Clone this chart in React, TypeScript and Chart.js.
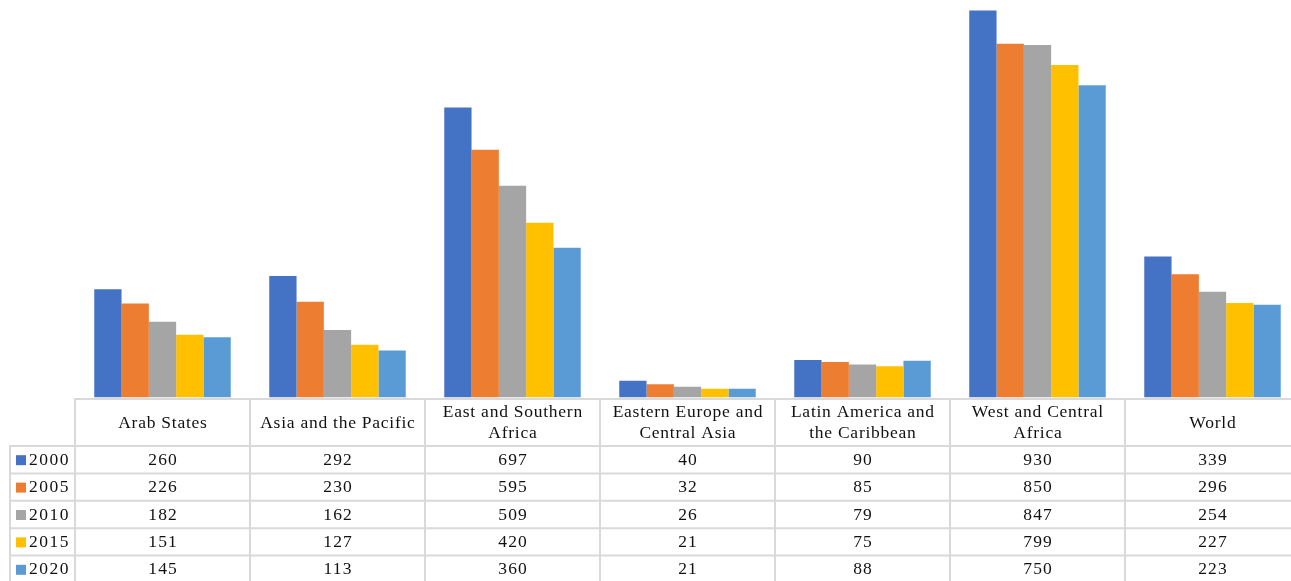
import React, { useEffect, useRef } from "react";
import { Chart, registerables } from "chart.js";

Chart.register(...registerables);

const categories: string[][] = [
  ["Arab States"],
  ["Asia and the Pacific"],
  ["East and Southern", "Africa"],
  ["Eastern Europe and", "Central Asia"],
  ["Latin America and", "the Caribbean"],
  ["West and Central", "Africa"],
  ["World"],
];

const seriesNames = ["2000", "2005", "2010", "2015", "2020"];
const seriesColors = ["#4472C4", "#ED7D31", "#A5A5A5", "#FFC000", "#5B9BD5"];

const values2000 = [260, 292, 697, 40, 90, 930, 339];
const values2005 = [226, 230, 595, 32, 85, 850, 296];
const values2010 = [182, 162, 509, 26, 79, 847, 254];
const values2015 = [151, 127, 420, 21, 75, 799, 227];
const values2020 = [145, 113, 360, 21, 88, 750, 223];

const seriesValues = [values2000, values2005, values2010, values2015, values2020];

const CANVAS_W = 1310;
const CANVAS_H = 581;
const FONT = '17.5px "Liberation Serif", "Times New Roman", serif';
const GRID = "#d9d9d9";

const tablePlugin = {
  id: "dataTable",
  afterDraw(chart: any) {
    const ctx = chart.ctx as any;
    const area = chart.chartArea;
    const n = categories.length;
    const colW = (area.right - area.left) / n;
    const headerTop = area.bottom + 1.5;
    const headerBottom = 446;
    const rowH = 27.4;
    const tableLeft = 10;
    const bottom = CANVAS_H + 30;

    ctx.save();
    ctx.strokeStyle = GRID;
    ctx.lineWidth = 2;
    ctx.beginPath();
    ctx.moveTo(area.left, headerTop);
    ctx.lineTo(area.right, headerTop);
    for (let k = 0; k <= seriesNames.length; k++) {
      const y = headerBottom + k * rowH;
      ctx.moveTo(tableLeft, y);
      ctx.lineTo(area.right, y);
    }
    for (let i = 0; i <= n; i++) {
      const x = area.left + i * colW;
      ctx.moveTo(x, headerTop - 1);
      ctx.lineTo(x, bottom);
    }
    ctx.moveTo(tableLeft, headerBottom - 1);
    ctx.lineTo(tableLeft, bottom);
    ctx.stroke();

    ctx.font = FONT;
    ctx.letterSpacing = "0.75px";
    ctx.fillStyle = "#111";
    ctx.textAlign = "center";
    ctx.textBaseline = "middle";
    const headerMid = (headerTop + headerBottom) / 2;
    const lineH = 20.5;
    categories.forEach((lines, i) => {
      const cx = area.left + (i + 0.5) * colW + 0.4;
      const startY = headerMid - ((lines.length - 1) * lineH) / 2;
      lines.forEach((ln, j) => ctx.fillText(ln, cx, startY + j * lineH + 0.5));
    });

    seriesNames.forEach((name, s) => {
      const cy = headerBottom + (s + 0.5) * rowH + 0.5;
      ctx.fillStyle = seriesColors[s];
      ctx.fillRect(16, cy - 5, 10, 10);
      ctx.fillStyle = "#111";
      ctx.textAlign = "left";
      ctx.letterSpacing = "1.5px";
      ctx.fillText(name, 29, cy);
      ctx.letterSpacing = "1.2px";
      ctx.textAlign = "center";
      seriesValues[s].forEach((v, i) => {
        const cx = area.left + (i + 0.5) * colW + 0.6;
        ctx.fillText(String(v), cx, cy);
      });
    });
    ctx.restore();
  },
};

export default function App() {
  const ref = useRef<HTMLCanvasElement | null>(null);
  useEffect(() => {
    document.body.style.margin = "0";
    if (!ref.current) return;
    const chart = new Chart(ref.current, {
      type: "bar",
      data: {
        labels: categories.map((c) => c.join(" ")),
        datasets: seriesNames.map((name, s) => ({
          label: name,
          data: seriesValues[s],
          backgroundColor: seriesColors[s],
          borderWidth: 0,
          categoryPercentage: 0.78,
          barPercentage: 1.0,
        })),
      },
      options: {
        animation: false,
        responsive: false,
        devicePixelRatio: 1,
        layout: { padding: { left: 75, right: CANVAS_W - 1300, top: 0, bottom: CANVAS_H - 397.5 } },
        plugins: { legend: { display: false }, tooltip: { enabled: false } },
        scales: {
          x: { display: false },
          y: { display: false, min: 0, max: 955 },
        },
      },
      plugins: [tablePlugin],
    });
    return () => chart.destroy();
  }, []);
  return (
    <div style={{ width: 1291, height: CANVAS_H, overflow: "hidden", position: "relative", background: "#fff" }}>
      <canvas ref={ref} width={CANVAS_W} height={CANVAS_H} style={{ display: "block", width: CANVAS_W, height: CANVAS_H }} />
    </div>
  );
}
